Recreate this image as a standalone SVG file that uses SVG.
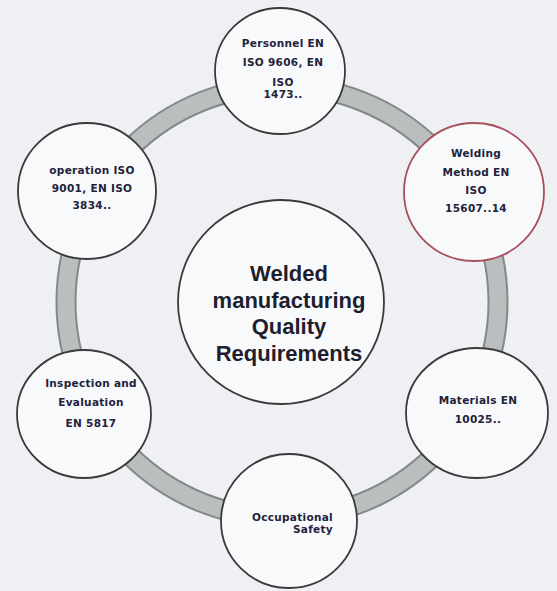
<svg xmlns="http://www.w3.org/2000/svg" width="557" height="591" viewBox="0 0 557 591">
<style>
.node{fill:#f8f9fa;stroke:#3a3a3a;stroke-width:1.8}
.red{stroke:#a8505c}
.lbl{font-family:"DejaVu Sans","Liberation Sans",sans-serif;font-weight:bold;font-size:10.5px;fill:#22223a;text-anchor:middle;letter-spacing:0.3px}
.big{font-family:"Liberation Sans",Arial,sans-serif;font-weight:bold;font-size:22px;fill:#1e1e2e;text-anchor:middle}
</style>
<rect width="557" height="591" fill="#eef0f3"/>
<g id="connectors">
<circle cx="282" cy="302" r="216" fill="none" stroke="#858888" stroke-width="21"/>
<circle cx="282" cy="302" r="216" fill="none" stroke="#babebe" stroke-width="17"/>
</g>
<g id="center">
<ellipse class="node" cx="281" cy="302" rx="103" ry="102"/>
<text class="big" x="289" y="281">Welded</text>
<text class="big" x="289" y="308">manufacturing</text>
<text class="big" x="289" y="334">Quality</text>
<text class="big" x="289" y="361">Requirements</text>
</g>
<g id="personnel">
<ellipse class="node" cx="280" cy="71" rx="65" ry="63"/>
<text class="lbl" x="283" y="47">Personnel  EN</text>
<text class="lbl" x="283" y="66">ISO 9606, EN</text>
<text class="lbl" x="283" y="86">ISO</text>
<text class="lbl" x="283" y="98">1473..</text>
</g>
<g id="welding">
<ellipse class="node red" cx="474" cy="192" rx="70" ry="69"/>
<text class="lbl" x="476" y="157">Welding</text>
<text class="lbl" x="476" y="176">Method  EN</text>
<text class="lbl" x="476" y="194">ISO</text>
<text class="lbl" x="476" y="212">15607..14</text>
</g>
<g id="materials">
<ellipse class="node" cx="477" cy="413" rx="71" ry="65"/>
<text class="lbl" x="478" y="404">Materials EN</text>
<text class="lbl" x="478" y="423">10025..</text>
</g>
<g id="occupational">
<ellipse class="node" cx="289" cy="521" rx="68" ry="67"/>
<text class="lbl" x="333" y="521" style="text-anchor:end">Occupational</text>
<text class="lbl" x="333" y="533" style="text-anchor:end">Safety</text>
</g>
<g id="inspection">
<ellipse class="node" cx="84" cy="414" rx="67" ry="64"/>
<text class="lbl" x="91" y="387">Inspection  and</text>
<text class="lbl" x="91" y="406">Evaluation</text>
<text class="lbl" x="91" y="427">EN 5817</text>
</g>
<g id="operation">
<ellipse class="node" cx="87" cy="191" rx="69" ry="68"/>
<text class="lbl" x="92" y="174">operation ISO</text>
<text class="lbl" x="92" y="192">9001, EN ISO</text>
<text class="lbl" x="92" y="209">3834..</text>
</g>
</svg>
